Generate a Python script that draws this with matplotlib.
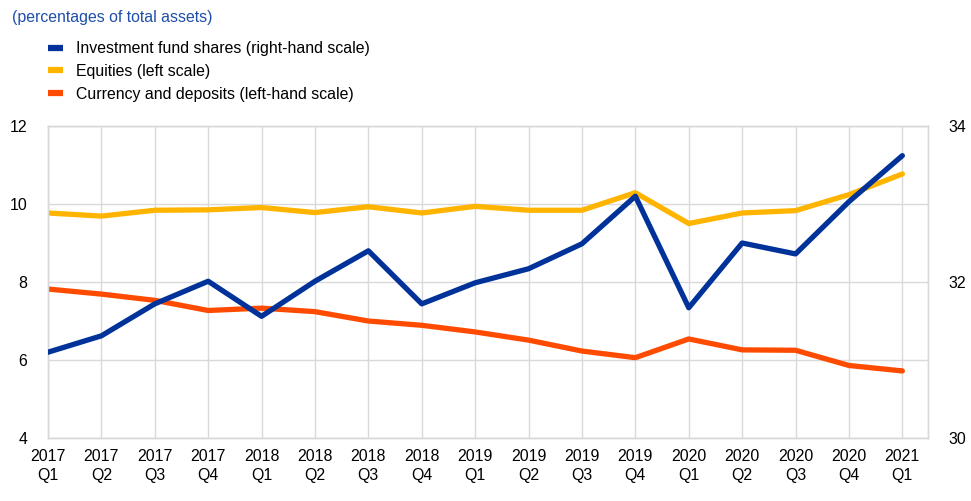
import numpy as np
import matplotlib.pyplot as plt
from matplotlib.lines import Line2D

plt.rcParams['font.family'] = ['Liberation Sans', 'DejaVu Sans']

quarters = ["2017\nQ1", "2017\nQ2", "2017\nQ3", "2017\nQ4",
            "2018\nQ1", "2018\nQ2", "2018\nQ3", "2018\nQ4",
            "2019\nQ1", "2019\nQ2", "2019\nQ3", "2019\nQ4",
            "2020\nQ1", "2020\nQ2", "2020\nQ3", "2020\nQ4",
            "2021\nQ1"]

fund_shares = [31.10, 31.31, 31.72, 32.01, 31.56, 32.01, 32.40, 31.72, 31.99,
               32.17, 32.49, 33.10, 31.67, 32.50, 32.36, 33.03, 33.62]
equities = [9.77, 9.69, 9.84, 9.85, 9.91, 9.78, 9.93, 9.77, 9.94,
            9.84, 9.84, 10.29, 9.50, 9.77, 9.83, 10.24, 10.77]
currency = [7.82, 7.69, 7.53, 7.27, 7.33, 7.24, 7.00, 6.89, 6.72,
            6.51, 6.23, 6.06, 6.54, 6.26, 6.25, 5.86, 5.72]

blue = '#003299'
yellow = '#FFB400'
orange = '#FF4B00'
grid = '#D9D9D9'
fs = 11.4

x = np.arange(len(quarters))

fig = plt.figure(figsize=(9.71, 5.01), dpi=100)
ax = fig.add_axes([0.0494, 0.1257, 0.9063, 0.6228])
ax2 = ax.twinx()

ax.plot(x, equities, color=yellow, lw=3.8, solid_capstyle='round', zorder=3)
ax.plot(x, currency, color=orange, lw=3.8, solid_capstyle='round', zorder=3)
ax2.plot(x, fund_shares, color=blue, lw=3.8, solid_capstyle='round', zorder=4)

ax.set_xlim(0, 16.48)
ax.set_ylim(4, 12)
ax.set_yticks([4, 6, 8, 10, 12])
ax2.set_ylim(30, 34)
ax2.set_yticks([30, 32, 34])
ax.set_xticks(x)
ax.set_xticklabels(quarters, linespacing=1.3)

ax.grid(True, color=grid, lw=1)
ax.set_axisbelow(True)
for a in (ax, ax2):
    for s in a.spines.values():
        s.set_color(grid)
        s.set_linewidth(1)
    a.tick_params(length=0, labelsize=fs, colors='#000000')
ax.tick_params(axis='y', pad=15)
ax.tick_params(axis='x', pad=8)
ax2.tick_params(axis='y', pad=15)

fig.text(0.012, 0.965, '(percentages of total assets)', color='#1F4EAA',
         fontsize=fs, va='center', ha='left')

handles = [Line2D([], [], color=blue, lw=4.5, solid_capstyle='butt'),
           Line2D([], [], color=yellow, lw=4.5, solid_capstyle='butt'),
           Line2D([], [], color=orange, lw=4.5, solid_capstyle='butt')]
labels = ['Investment fund shares (right-hand scale)',
          'Equities (left scale)',
          'Currency and deposits (left-hand scale)']
fig.legend(handles=handles, labels=labels, loc='upper left',
           bbox_to_anchor=(0.049, 0.918), frameon=False, fontsize=fs,
           handlelength=1.0, handletextpad=0.8, labelspacing=0.5,
           borderaxespad=0, borderpad=0)

fig.savefig('out.png', dpi=100)
